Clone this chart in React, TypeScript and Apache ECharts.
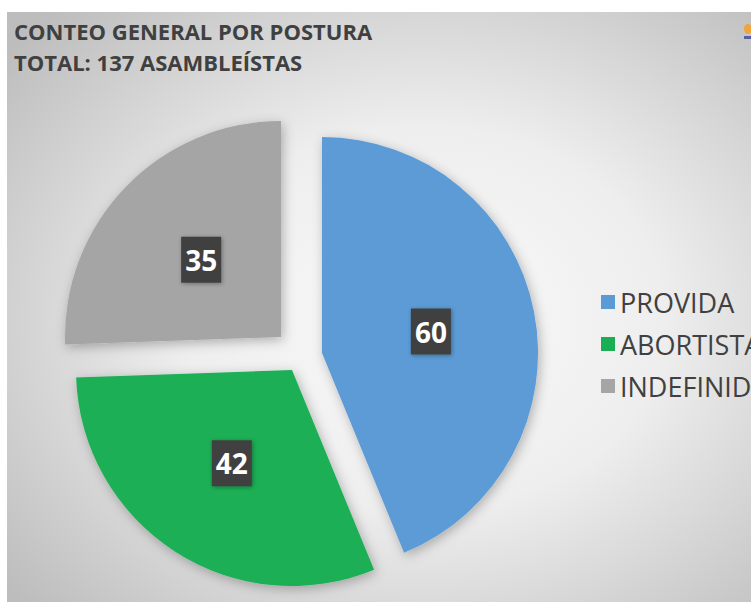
import React, { useEffect, useRef } from "react";
import * as echarts from "echarts";

const categories = ["PROVIDA", "ABORTISTA", "INDEFINIDO"];
const values = [60, 42, 35];
const colors = ["#5b9bd5", "#1baf55", "#a5a5a5"];
const titleLines = ["CONTEO GENERAL POR POSTURA", "TOTAL: 137 ASAMBLEÍSTAS"];
// apex (exploded centre) of each slice, in pixels
const sliceCenters = [
  [322, 353],
  [292, 370],
  [281, 337],
];

export default function App() {
  const ref = useRef<HTMLDivElement>(null);
  useEffect(() => {
    if (!ref.current) return;
    const chart = echarts.init(ref.current, undefined, { renderer: "svg" });
    const font = "'Open Sans', sans-serif";
    const series = categories.map((_, si) => ({
      type: "pie",
      radius: 216,
      center: sliceCenters[si],
      startAngle: 90,
      clockwise: true,
      silent: true,
      emphasis: { disabled: true },
      labelLine: { show: false },
      data: categories.map((name, i) => ({
        name,
        value: values[i],
        itemStyle:
          i === si
            ? {
                color: colors[i],
                shadowBlur: 12,
                shadowColor: "rgba(0,0,0,0.28)",
                shadowOffsetX: 2,
                shadowOffsetY: 3,
              }
            : { color: "transparent" },
        label:
          i === si
            ? {
                show: true,
                position: "inside",
                formatter: "{c}",
                color: "#ffffff",
                fontFamily: font,
                fontWeight: "bold",
                fontSize: 28,
                lineHeight: 33,
                backgroundColor: "#404040",
                padding: [7, 4, 6, 4],
                shadowBlur: 4,
                shadowColor: "rgba(0,0,0,0.35)",
                shadowOffsetX: 1,
                shadowOffsetY: 1,
              }
            : { show: false },
      })),
    }));
    chart.setOption({
      animation: false,
      legend: {
        orient: "vertical",
        left: 601,
        top: 288,
        padding: 0,
        icon: "rect",
        itemWidth: 14,
        itemHeight: 14,
        itemGap: 14,
        selectedMode: false,
        data: categories.map((name, i) => ({ name, itemStyle: { color: colors[i] } })),
        textStyle: {
          fontFamily: font,
          fontSize: 27,
          lineHeight: 28,
          color: "#404040",
          padding: [0, 0, 0, 0],
        },
      },
      graphic: [
        {
          type: "rect",
          z: -10,
          silent: true,
          shape: { x: 7, y: 12, width: 744, height: 590 },
          style: {
            fill: new echarts.graphic.RadialGradient(0.56, 0.52, 0.72, [
              { offset: 0, color: "#fafafa" },
              { offset: 0.45, color: "#eeeeee" },
              { offset: 1, color: "#bdbdbd" },
            ]),
          },
        },
        {
          type: "text",
          left: 14,
          top: 20,
          silent: true,
          style: {
            text: titleLines[0],
            fontFamily: font,
            fontWeight: "bold",
            fontSize: 22,
            fill: "#404040",
          },
        },
        {
          type: "text",
          left: 14,
          top: 51,
          silent: true,
          style: {
            text: titleLines[1],
            fontFamily: font,
            fontWeight: "bold",
            fontSize: 22,
            fill: "#404040",
          },
        },
        {
          type: "ellipse",
          silent: true,
          shape: { cx: 748, cy: 29, rx: 4, ry: 5 },
          style: { fill: "#f2a33a" },
        },
        {
          type: "rect",
          silent: true,
          shape: { x: 744, y: 36, width: 7, height: 3 },
          style: { fill: "#5a5fa0" },
        },
      ],
      series,
    });
    return () => chart.dispose();
  }, []);
  return (
    <div
      ref={ref}
      style={{ position: "fixed", left: 0, top: 0, width: 751, height: 602, background: "#ffffff" }}
    />
  );
}
